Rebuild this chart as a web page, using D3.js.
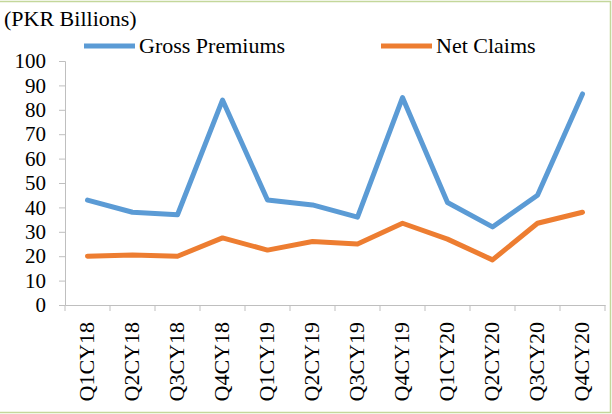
<!DOCTYPE html>
<html>
<head>
<meta charset="utf-8">
<script src="https://cdn.jsdelivr.net/npm/d3@7"></script>
<style>
  body { margin: 0; background: #fff; }
  svg text { font-family: "Liberation Serif", "Times New Roman", "DejaVu Serif", serif !important; }
</style>
</head>
<body>
<svg id="chart" width="612" height="414"></svg>
<script>
const quarters = ["Q1CY18", "Q2CY18", "Q3CY18", "Q4CY18", "Q1CY19", "Q2CY19",
  "Q3CY19", "Q4CY19", "Q1CY20", "Q2CY20", "Q3CY20", "Q4CY20"];
const grossPremiums = [43, 38, 37, 84, 43, 41, 36, 85, 42, 32, 45, 86.5];
const netClaims = [20, 20.5, 20, 27.5, 22.5, 26, 25, 33.5, 27, 18.5, 33.5, 38];
const yTicks = [0, 10, 20, 30, 40, 50, 60, 70, 80, 90, 100];
const seriesNames = ["Gross Premiums", "Net Claims"];
const seriesColors = ["#5b9bd5", "#ed7d31"];

const svg = d3.select("#chart");
const margin = {top: 61, left: 65, right: 7, bottom: 109};
const width = 612 - margin.left - margin.right;
const height = 414 - margin.top - margin.bottom;

// outer frame (light green)
svg.append("path")
  .attr("d", "M0,1.5 H610.5 V412.5 H0")
  .attr("fill", "none")
  .attr("stroke", "#c4d79b")
  .attr("stroke-width", 1.5);

const g = svg.append("g")
  .attr("transform", "translate(" + margin.left + "," + margin.top + ")");

const x = d3.scaleBand().domain(quarters).range([0, width]);
const y = d3.scaleLinear().domain([0, 100]).range([height, 0]);

// y axis
const yAxis = g.append("g")
  .call(d3.axisLeft(y).tickValues(yTicks).tickSize(6).tickPadding(13));
yAxis.attr("font-family", null);
yAxis.selectAll("text")
  .attr("font-size", 21)
  .attr("fill", "#000");

// x axis with ticks at category boundaries
const xAxis = g.append("g")
  .attr("transform", "translate(0," + height + ")")
  .call(d3.axisBottom(x).tickSize(0).tickFormat(""));
xAxis.attr("font-family", null);
xAxis.selectAll(".tick").remove();
xAxis.selectAll(".bound")
  .data(d3.range(quarters.length + 1))
  .enter().append("line")
  .attr("class", "bound")
  .attr("x1", i => i * x.step())
  .attr("x2", i => i * x.step())
  .attr("y1", 0)
  .attr("y2", 6)
  .attr("stroke", "#bfbfbf");

xAxis.selectAll(".qlabel")
  .data(quarters)
  .enter().append("text")
  .attr("class", "qlabel")
  .attr("transform", d => "translate(" + (x(d) + x.bandwidth() / 2 + 6) + ",17) rotate(-90)")
  .attr("text-anchor", "end")
  .attr("font-size", 22)
  .attr("fill", "#000")
  .text(d => d);

g.selectAll(".domain").attr("stroke", "#bfbfbf");
yAxis.selectAll(".tick line").attr("stroke", "#bfbfbf");

// lines
const line = d3.line()
  .x((d, i) => x(quarters[i]) + x.bandwidth() / 2)
  .y(d => y(d));

[grossPremiums, netClaims].forEach((vals, k) => {
  g.append("path")
    .datum(vals)
    .attr("d", line)
    .attr("fill", "none")
    .attr("stroke", seriesColors[k])
    .attr("stroke-width", 5)
    .attr("stroke-linejoin", "round")
    .attr("stroke-linecap", "round");
});

// unit label
svg.append("text")
  .attr("x", 4)
  .attr("y", 26)
  .attr("font-size", 22)
  .text("(PKR Billions)");

// legend
const legendX = [84, 381];
seriesNames.forEach((name, k) => {
  const lg = svg.append("g").attr("transform", "translate(" + legendX[k] + ",46)");
  lg.append("line")
    .attr("x1", 0).attr("x2", 51)
    .attr("stroke", seriesColors[k])
    .attr("stroke-width", 5);
  lg.append("text")
    .attr("x", 55)
    .attr("y", 7)
    .attr("font-size", 22)
    .text(name);
});
</script>
</body>
</html>
